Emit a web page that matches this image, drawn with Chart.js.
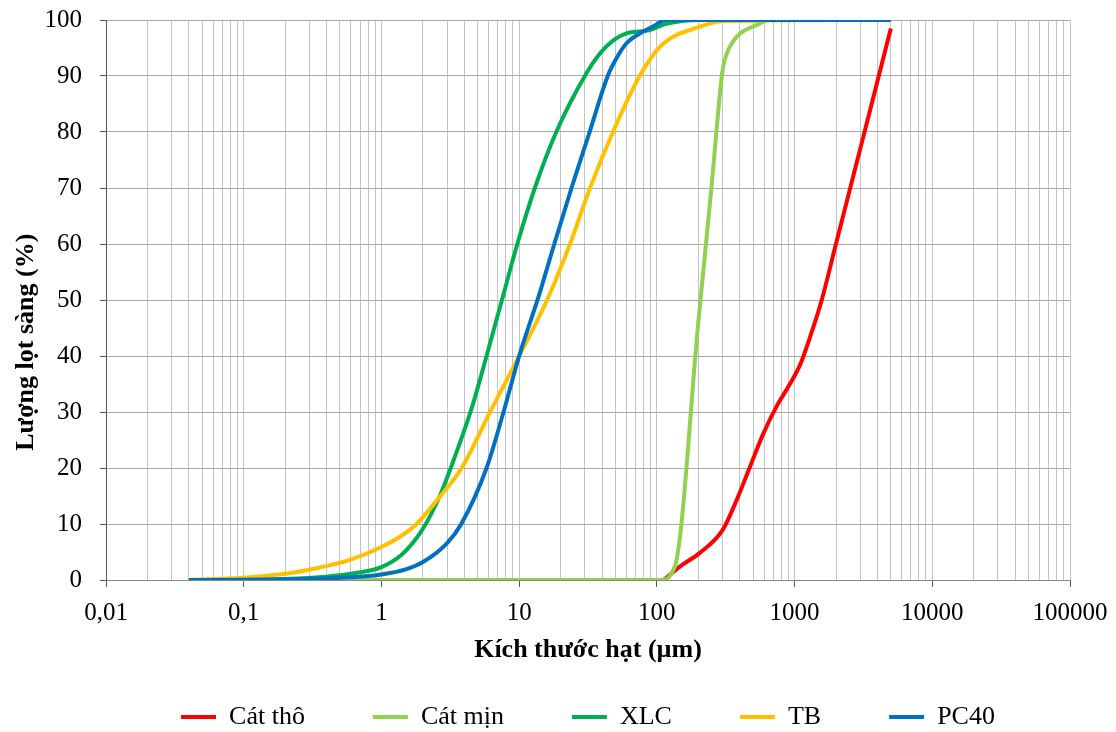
<!DOCTYPE html>
<html>
<head>
<meta charset="utf-8">
<script src="https://cdn.jsdelivr.net/npm/chart.js@4.4.1/dist/chart.umd.min.js"></script>
<style>
  html, body { margin: 0; padding: 0; background: #fff; overflow: hidden; }
  #sieveChart { display: block; }
</style>
</head>
<body>
<canvas id="sieveChart" width="1116" height="740" style="width:1116px;height:740px"></canvas>
<script>
// particle size (um) and % passing
const coarseSandSize = [112, 147, 204, 300, 380, 474, 590, 740, 900, 1100, 1300, 1575, 1970, 2530, 3160, 3980, 5000];
const coarseSandPass = [0, 2.4, 4.8, 8.9, 14.3, 20.2, 26, 31, 34.5, 38.5, 43.5, 50, 59.4, 69.9, 79.2, 88.9, 98.5];

const fineSandSize = [0.04, 105, 135, 200, 250, 300, 322, 380, 530, 660, 5000];
const fineSandPass = [0, 0, 2.4, 46, 70.5, 91, 94, 97, 99.1, 100, 100];

const xlcSize = [0.04, 0.1, 0.2, 0.4, 0.6, 1, 1.4, 1.8, 2.1, 2.6, 3.24, 4.5, 5.8, 7.5, 9.7, 13, 18.6, 30, 38.6, 48.5, 60, 89, 117, 200, 5000];
const xlcPass = [0, 0.05, 0.2, 0.6, 1.1, 2.3, 4.5, 7.5, 10, 14.5, 20.5, 30.5, 40, 50, 60, 70, 80, 90, 94, 96.4, 97.6, 98.2, 99.3, 100, 100];

const tbSize = [0.04, 0.1, 0.2, 0.35, 0.59, 1, 1.4, 1.8, 2.6, 3.83, 6.15, 10, 16.3, 23.4, 32.7, 48, 75, 108, 205, 300, 5000];
const tbPass = [0, 0.4, 1.1, 2.2, 3.6, 5.9, 7.9, 10, 14.6, 20, 30, 40, 50.5, 60, 70, 80, 90, 95.5, 98.8, 99.8, 100];

const pc40Size = [0.04, 0.1, 0.2, 0.5, 1, 1.5, 2, 3, 3.8, 5.8, 7.7, 10, 14, 18, 24, 32, 44, 51, 60, 75, 93, 117, 5000];
const pc40Pass = [0, 0.05, 0.15, 0.4, 1, 1.9, 3.2, 6.6, 10, 20, 30, 40, 51, 60, 70, 79.5, 90, 93.2, 95.8, 97.6, 98.8, 100, 100];

const seriesNames = ["Cát thô", "Cát mịn", "XLC", "TB", "PC40"];
const seriesColors = ["#FF0000", "#92D050", "#00B050", "#FFC000", "#0070C0"];

const xDecades = [0.01, 0.1, 1, 10, 100, 1000, 10000, 100000];
const xTickLabels = ["0,01", "0,1", "1", "10", "100", "1000", "10000", "100000"];

// log grid: 1..9 x each decade, plus the last decade
const xGridValues = [];
xDecades.slice(0, -1).forEach((d) => {
  for (let s = 1; s <= 9; s++) xGridValues.push(Number((s * d).toPrecision(6)));
});
xGridValues.push(xDecades[xDecades.length - 1]);

function toPoints(xs, ys) {
  return xs.map((x, i) => ({ x: x, y: ys[i] }));
}

const allSizes = [coarseSandSize, fineSandSize, xlcSize, tbSize, pc40Size];
const allPass = [coarseSandPass, fineSandPass, xlcPass, tbPass, pc40Pass];

Chart.defaults.font.family = '"Liberation Serif", "Times New Roman", serif';
Chart.defaults.color = "#000";

const datasets = seriesNames.map((name, i) => ({
  label: name,
  data: toPoints(allSizes[i], allPass[i]),
  borderColor: seriesColors[i],
  backgroundColor: seriesColors[i],
  borderWidth: 4,
  pointRadius: 0,
  pointHoverRadius: 0,
  cubicInterpolationMode: "monotone",
  order: seriesNames.length - i, // later series on top, like the original
}));

const isDecade = (v) => xDecades.indexOf(v) >= 0;

const config = {
  type: "line",
  data: { datasets: datasets },
  options: {
    responsive: false,
    animation: false,
    layout: { padding: { left: 0, right: 46, top: 20, bottom: 0 } },
    scales: {
      x: {
        type: "logarithmic",
        min: 0.01,
        max: 100000,
        afterBuildTicks: (scale) => {
          scale.ticks = xGridValues.map((v) => ({ value: v }));
        },
        afterFit: (scale) => {
          scale.height = 56;
          scale.paddingLeft = 20;
          scale.paddingRight = 30;
        },
        ticks: {
          autoSkip: false,
          maxRotation: 0,
          minRotation: 0,
          padding: 11,
          font: { size: 25 },
          callback: function (value) {
            const i = xDecades.indexOf(value);
            return i >= 0 ? xTickLabels[i] : "";
          },
        },
        grid: {
          color: "#c4c4c4",
          lineWidth: 1,
          tickLength: 7,
          tickColor: (ctx) => (ctx.tick && isDecade(ctx.tick.value) ? "#595959" : "rgba(0,0,0,0)"),
        },
        border: { color: "#868686", width: 1 },
        title: {
          display: true,
          text: "Kích thước hạt (µm)",
          font: { size: 26, weight: "bold" },
          padding: { top: 0, bottom: -30 },
        },
      },
      y: {
        min: 0,
        max: 100,
        afterFit: (scale) => {
          scale.width = 106;
          scale.paddingTop = 12;
          scale.paddingBottom = 12;
        },
        ticks: {
          stepSize: 10,
          padding: 18,
          font: { size: 25 },
        },
        grid: {
          color: "#a9a9a9",
          lineWidth: 1,
          tickLength: 6,
          tickColor: "#595959",
        },
        border: { color: "#595959", width: 1 },
        title: {
          display: true,
          text: "Lượng lọt sàng (%)" + "\u00a0".repeat(13),
          font: { size: 26, weight: "bold" },
          padding: { top: 11, bottom: 0 },
        },
      },
    },
    plugins: {
      tooltip: { enabled: false },
      legend: {
        position: "bottom",
        fullSize: false,
        reverse: true,
        labels: {
          boxWidth: 35,
          boxHeight: 4,
          padding: 68,
          font: { size: 26 },
          color: "#000",
          generateLabels: (chart) =>
            Chart.defaults.plugins.legend.labels.generateLabels(chart).map((item) => ({ ...item, lineWidth: 0 })),
        },
      },
    },
  },
};

var sieveChart = new Chart(document.getElementById("sieveChart"), config);
</script>
</body>
</html>
